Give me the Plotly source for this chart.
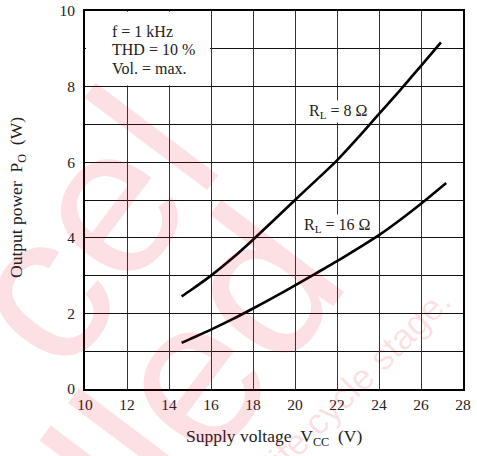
import plotly.graph_objects as go

# ---- data ----
vcc_8 = [14.6, 15, 16, 17, 18, 19, 20, 21, 22, 23, 24, 25, 26, 26.95]
po_8 = [2.45, 2.6, 3.0, 3.45, 3.95, 4.47, 5.0, 5.52, 6.05, 6.65, 7.28, 7.9, 8.55, 9.17]

vcc_16 = [14.6, 15, 16, 17, 18, 19, 20, 21, 22, 23, 24, 25, 26, 27.2]
po_16 = [1.22, 1.32, 1.57, 1.84, 2.13, 2.43, 2.74, 3.06, 3.38, 3.72, 4.07, 4.47, 4.9, 5.45]

x_ticks = [10, 12, 14, 16, 18, 20, 22, 24, 26, 28]
y_ticks = [0, 2, 4, 6, 8, 10]
conditions = ["f = 1 kHz", "THD = 10 %", "Vol. = max."]

SERIF = "Liberation Serif, Times New Roman, serif"
SANS = "Liberation Sans, Arial, sans-serif"
TXT = "#222"

W, H = 477, 456
L, R, T, B = 85, 14, 11, 67
PW, PH = W - L - R, H - T - B


def px(xp):
    return (xp - L) / PW


def py(yp):
    return (T + PH - yp) / PH


fig = go.Figure()
for xs, ys in [(vcc_8, po_8), (vcc_16, po_16)]:
    fig.add_trace(go.Scatter(x=xs, y=ys, mode="lines",
                             line=dict(color="black", width=2.6, shape="spline", smoothing=0.8),
                             showlegend=False, hoverinfo="skip"))

fig.update_xaxes(range=[10, 28], tickvals=x_ticks, ticktext=[str(v) for v in x_ticks],
                 showgrid=True, gridcolor="#333", gridwidth=1.3,
                 showline=True, mirror=True, linecolor="black", linewidth=1.6,
                 ticks="", ticklabelstandoff=1, zeroline=False, ticklabeloverflow="allow",
                 tickfont=dict(family=SERIF, size=15.5, color=TXT))
fig.update_yaxes(range=[0, 10], tickvals=y_ticks, ticktext=[str(v) for v in y_ticks],
                 showgrid=True, gridcolor="#111", gridwidth=1,
                 minor=dict(showgrid=True, gridcolor="#111", gridwidth=1, dtick=1),
                 showline=True, mirror=True, linecolor="black", linewidth=1.6,
                 ticks="", ticklabelstandoff=5, zeroline=False, ticklabeloverflow="allow",
                 tickfont=dict(family=SERIF, size=15.5, color=TXT))

# white area behind the conditions text
fig.add_shape(type="rect", xref="x", yref="y", x0=10.05, x1=15.95, y0=8.03, y1=9.98,
              fillcolor="white", line=dict(width=0), layer="between")

ann = []
for i, txt in enumerate(conditions):
    ann.append(dict(text=txt, xref="paper", yref="paper", x=px(110), y=py(31 + 18.5 * i),
                    xanchor="left", yanchor="middle", showarrow=False,
                    font=dict(family=SERIF, size=16, color=TXT)))

ann.append(dict(text="R<sub>L</sub> = 8 Ω", xref="x", yref="y", x=22.05, y=7.35,
                xanchor="center", yanchor="middle",
                showarrow=False, bgcolor="white", borderpad=1,
                font=dict(family=SERIF, size=16, color=TXT)))
ann.append(dict(text="R<sub>L</sub> = 16 Ω", xref="x", yref="y", x=22.0, y=4.33,
                xanchor="center", yanchor="middle",
                showarrow=False, bgcolor="white", borderpad=1,
                font=dict(family=SERIF, size=16, color=TXT)))

ann.append(dict(text="Output power\u00a0\u00a0P<sub>O</sub>\u00a0\u00a0(W)", xref="paper", yref="paper",
                x=px(18), y=py(198), xanchor="center", yanchor="middle", textangle=-90,
                showarrow=False, font=dict(family=SERIF, size=17.5, color=TXT)))
ann.append(dict(text="Supply voltage\u00a0\u00a0V<sub>CC</sub>\u00a0\u00a0(V)", xref="paper", yref="paper",
                x=px(274), y=py(438), xanchor="center", yanchor="middle",
                showarrow=False, font=dict(family=SERIF, size=17.5, color=TXT)))

# watermark
WM = "rgba(230,0,30,0.12)"
ann.append(dict(text="cel", xref="paper", yref="paper", x=px(86), y=py(228), textangle=-53,
                xanchor="center", yanchor="middle",
                showarrow=False, font=dict(family=SANS, size=212, color=WM)))
ann.append(dict(text="lled", xref="paper", yref="paper", x=px(194), y=py(368), textangle=-53,
                xanchor="center", yanchor="middle",
                showarrow=False, font=dict(family=SANS, size=212, color=WM)))
ann.append(dict(text="life cycle stage.", xref="paper", yref="paper", x=px(357), y=py(381), textangle=-45,
                xanchor="center", yanchor="middle",
                showarrow=False, font=dict(family=SANS, size=36, color=WM)))

fig.update_layout(width=W, height=H, margin=dict(l=L, r=R, t=T, b=B, autoexpand=False),
                  paper_bgcolor="white", plot_bgcolor="white", annotations=ann)

fig.write_html("out.html", config={"displayModeBar": False},
               post_script="document.body.style.margin='0';")
